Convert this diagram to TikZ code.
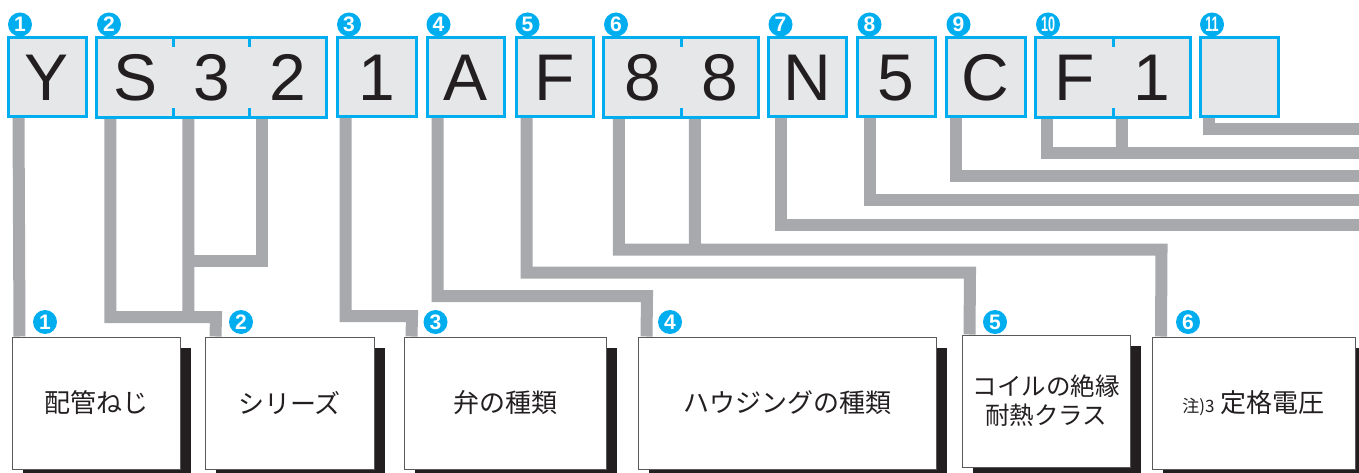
\documentclass[tikz,border=0pt]{standalone}
\usepackage{fontspec}
\setmainfont{Liberation Sans}
\newfontfamily\jp{Noto Sans CJK JP}
\usetikzlibrary{shadows,backgrounds}
\definecolor{cy}{HTML}{00AEEF}
\definecolor{lgray}{HTML}{A7A9AC}
\definecolor{cellgray}{HTML}{E6E7E8}
\definecolor{ink}{HTML}{231F20}
\begin{document}
\begin{tikzpicture}[x=1pt,y=-1pt,
  cell/.style={rectangle,fill=cellgray,inner sep=0pt,minimum width=#1,minimum height=79pt,
    text=ink,font=\fontsize{66}{66}\selectfont,text height=47pt,text depth=0pt},
  single/.style={cell=#1,draw=cy,line width=3pt},
  cyborder/.style={draw=cy,line width=3pt},
  tickst/.style={draw=cy,line width=3pt},
  conn/.style={draw=lgray,line width=12pt},
  badge/.style={circle,fill=cy,inner sep=0pt,minimum size=24pt,text=white,
    font=\fontsize{21}{21}\selectfont\bfseries},
  bbox/.style={rectangle,draw=black!65,line width=1pt,fill=white,minimum width=#1,
    minimum height=132pt,inner sep=0pt,text=ink,align=center,
    font=\jp\fontsize{26}{30}\selectfont,
    drop shadow={shadow xshift=11pt,shadow yshift=-11pt,fill=ink,opacity=1}},
]
\useasboundingbox (0,0) rectangle (1359,473);

% top cells
\node[single=78pt] (cY) at (47,77.5) {Y};
\node[cell=76.3pt] (cS) at (135.2,77.5) {S};
\node[cell=76.3pt] (c3) at (211.5,77.5) {3};
\node[cell=76.3pt] (c2) at (287.8,77.5) {2};
\draw[cyborder] (cS.north west) rectangle (c2.south east);
\foreach \c in {cS,c3} {
  \draw[tickst] (\c.north east) -- ++(0,9);
  \draw[tickst] (\c.south east) -- ++(0,-9);
}
\node[single=79pt] (c1) at (376.5,77.5) {1};
\node[single=77pt] (cA) at (465.5,77.5) {A};
\node[single=77pt] (cF) at (554.5,77.5) {F};
\node[cell=77pt] (c8a) at (642.5,77.5) {8};
\node[cell=77pt] (c8b) at (719.5,77.5) {8};
\draw[cyborder] (c8a.north west) rectangle (c8b.south east);
\draw[tickst] (c8a.north east) -- ++(0,9);
\draw[tickst] (c8a.south east) -- ++(0,-9);
\node[single=78pt] (cN) at (807,77.5) {N};
\node[single=78pt] (c5) at (896,77.5) {5};
\node[single=79pt] (cC) at (985.5,77.5) {C};
\node[cell=77pt] (cF2) at (1074.5,77.5) {F};
\node[cell=77pt] (c12) at (1151.5,77.5) {1};
\draw[cyborder] (cF2.north west) rectangle (c12.south east);
\draw[tickst] (cF2.north east) -- ++(0,9);
\draw[tickst] (cF2.south east) -- ++(0,-9);
\node[single=78pt] (cE) at (1239,77.5) {};

% top badges
\node[badge] (t1) at (20,24.5) {1};
\node[badge] (t2) at (109,24.5) {2};
\node[badge] (t3) at (349,24.5) {3};
\node[badge] (t4) at (438.5,24.5) {4};
\node[badge] (t5) at (527.5,24.5) {5};
\node[badge] (t6) at (616,24.5) {6};
\node[badge] (t7) at (780.5,24.5) {7};
\node[badge] (t8) at (869.5,24.5) {8};
\node[badge] (t9) at (958.5,24.5) {9};
\node[badge] (t10) at (1048,24.5) {\scalebox{0.6}[1]{10}};
\node[badge] (t11) at (1212,24.5) {\scalebox{0.6}[1]{11}};

% bottom boxes
\node[bbox=168pt] (b1) at (96,403) {配管ねじ};
\node[bbox=169pt] (b2) at (289.5,403) {シリーズ};
\node[bbox=202pt] (b3) at (505,403) {弁の種類};
\node[bbox=298pt] (b4) at (787,403) {ハウジングの種類};
\node[bbox=168pt,font=\jp\fontsize{24.5}{29}\selectfont] (b5) at (1046,401) {コイルの絶縁\\耐熱クラス};
\node[bbox=203pt] (b6) at (1253.5,403) {{\fontsize{17}{17}\selectfont 注)3}\hspace{6pt}定格電圧};

% bottom badges
\node[badge] (n1) at (45,322) {1};
\node[badge] (n2) at (241,322) {2};
\node[badge] (n3) at (435.5,322) {3};
\node[badge] (n4) at (670,322) {4};
\node[badge] (n5) at (995,322) {5};
\node[badge] (n6) at (1188,322) {6};

% junction / free-end coordinates
\coordinate (j2a) at (188.5,260.5);
\coordinate (j2c) at (188.5,317);
\coordinate (j6) at (695,249.5);
\coordinate (j10) at (1122,153.5);
\coordinate (e7) at (1359,225);
\coordinate (e8) at (1359,200);
\coordinate (e9) at (1359,176.5);
\coordinate (e10) at (1359,153.5);
\coordinate (e11) at (1359,129);

\begin{scope}[on background layer]
\fill[white] (0,0) rectangle (1359,473);
\draw[conn] ([xshift=12pt,yshift=6pt]cY.south west) -- ([xshift=8pt]b1.north west);
\draw[conn] ([xshift=13.5pt,yshift=6pt]cS.south west) |- (216,317) -- ([xshift=11pt]b2.north west);
\draw[conn] ([xshift=15.2pt,yshift=6pt]c3.south west) -- (j2c);
\draw[conn] ([xshift=12.8pt,yshift=6pt]c2.south west) |- (j2a);
\draw[conn] ([xshift=10pt,yshift=6pt]c1.south west) |- (412,316) -- ([xshift=8pt]b3.north west);
\draw[conn] ([xshift=12pt,yshift=6pt]cA.south west) |- (647,296) -- ([xshift=9pt]b4.north west);
\draw[conn] ([xshift=12pt,yshift=6pt]cF.south west) |- (970,272.5) -- ([xshift=8pt]b5.north west);
\draw[conn] ([xshift=15pt,yshift=6pt]c8a.south west) |- (1161.5,249.5) -- ([xshift=9.5pt]b6.north west);
\draw[conn] ([xshift=14pt,yshift=6pt]c8b.south west) -- (j6);
\draw[conn] ([xshift=14pt,yshift=6pt]cN.south west) |- (e7);
\draw[conn] ([xshift=14.5pt,yshift=6pt]c5.south west) |- (e8);
\draw[conn] ([xshift=11pt,yshift=6pt]cC.south west) |- (e9);
\draw[conn] ([xshift=11pt,yshift=6pt]cF2.south west) |- (e10);
\draw[conn] ([xshift=9pt,yshift=6pt]c12.south west) -- (j10);
\draw[conn] ([xshift=10pt,yshift=6pt]cE.south west) |- (e11);
\end{scope}
\end{tikzpicture}
\end{document}
